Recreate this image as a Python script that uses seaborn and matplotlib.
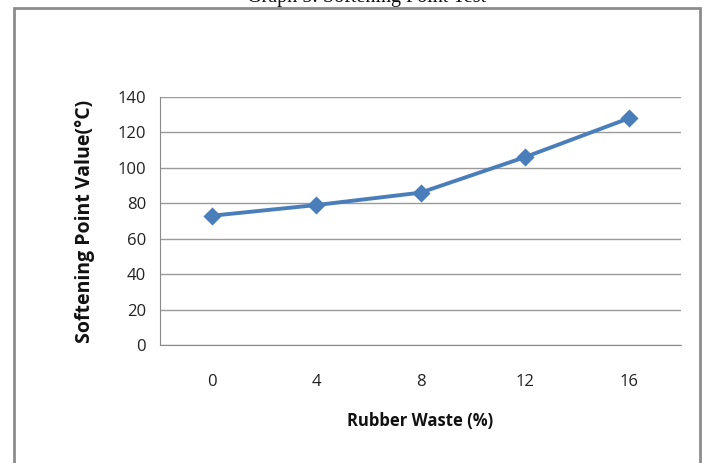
import matplotlib
matplotlib.use("Agg")
import matplotlib.pyplot as plt
import seaborn as sns
import pandas as pd
from matplotlib.patches import Rectangle
from matplotlib.ticker import FixedLocator, NullFormatter

rubber_waste = ["0", "4", "8", "12", "16"]
softening_point = [73, 79, 86, 106, 128]
y_ticks = [0, 20, 40, 60, 80, 100, 120, 140]

sns.set_style("white")
plt.rcParams['font.family'] = ['Open Sans', 'DejaVu Sans']

df = pd.DataFrame({"Rubber Waste (%)": rubber_waste, "Softening": softening_point})

fig = plt.figure(figsize=(7.08, 4.63), dpi=100)
ax = fig.add_axes([160/708, 1 - 345/463, (681 - 160)/708, (345 - 97)/463])

sns.pointplot(data=df, x="Rubber Waste (%)", y="Softening", ax=ax,
              color="#4A7EBB", markers="D", linestyles="-",
              markersize=7.5, linewidth=2.8, errorbar=None)

ax.set_xlim(-0.5, len(rubber_waste) - 0.5)
ax.set_ylim(0, 140)
ax.set_yticks(y_ticks)
ax.set_yticklabels([str(v) for v in y_ticks], fontsize=12, color="#222222")
ax.grid(axis="y", color="#9a9a9a", linewidth=1.0)
ax.set_axisbelow(True)

# category axis: ticks at boundaries, labels at centers
ax.set_xticks(range(len(rubber_waste)))
ax.set_xticklabels(rubber_waste, fontsize=12, color="#222222")
ax.tick_params(axis="x", which="major", length=0, pad=21)
ax.xaxis.set_minor_locator(FixedLocator([i - 0.5 for i in range(len(rubber_waste) + 1)]))
ax.xaxis.set_minor_formatter(NullFormatter())
ax.tick_params(axis="x", which="minor", length=5, color="#8a8a8a", direction="out", width=1)
ax.tick_params(axis="y", length=5, color="#8a8a8a", direction="out", width=1, pad=5)

for side in ["top", "right"]:
    ax.spines[side].set_visible(False)
ax.spines["left"].set_color("#8a8a8a")
ax.spines["bottom"].set_color("#8a8a8a")

ax.set_xlabel("Rubber Waste (%)", fontsize=12, fontweight="bold", labelpad=16, color="#111111")
ax.set_ylabel("Softening Point Value(\u00b0C)", fontsize=14, fontweight="bold", labelpad=16, color="#111111")

# outer frame
fig.patches.append(Rectangle((14/708, -0.05), (700 - 14)/708, 1.05 - 8/463,
                             transform=fig.transFigure, fill=False,
                             edgecolor="#8c8c8c", linewidth=2.0, zorder=0))

fig.text(367/708, 1 - 2/463, "Graph 5: Softening Point Test", ha="center", va="baseline",
         fontsize=14.5, family=["Liberation Serif"], color="#111111")

fig.savefig("out.png", dpi=100)
